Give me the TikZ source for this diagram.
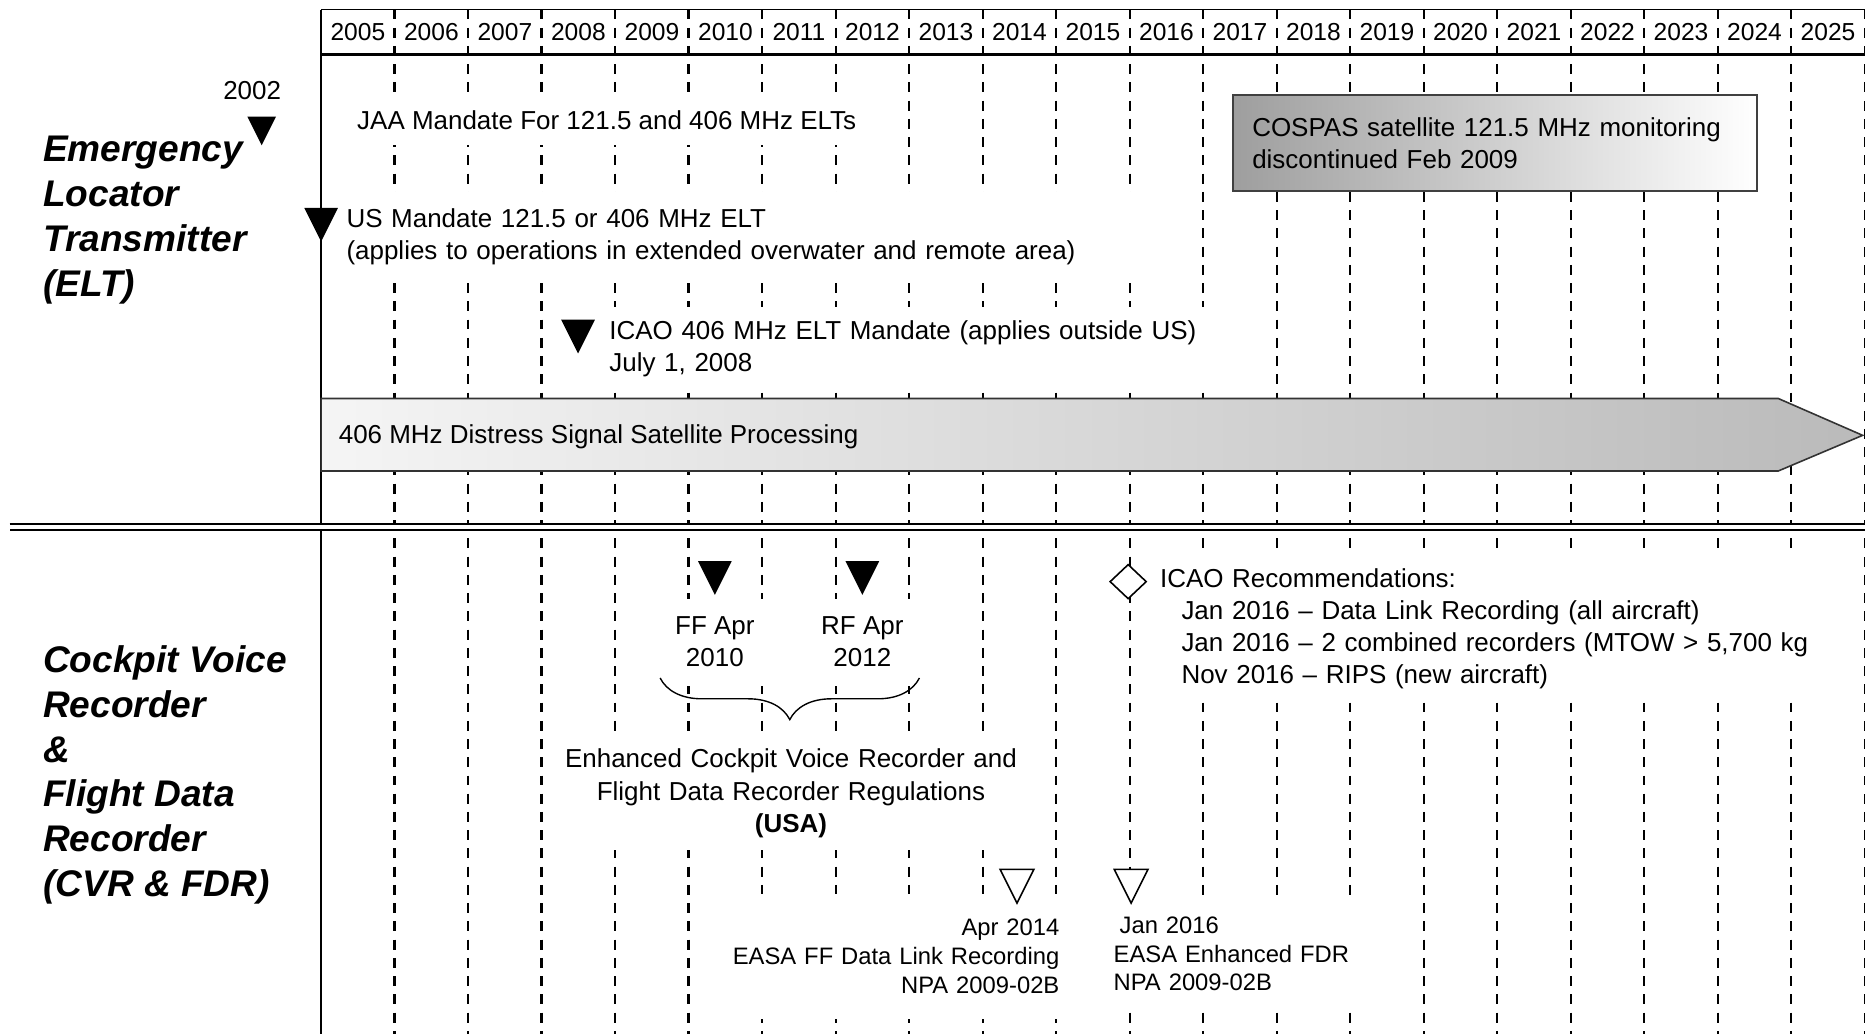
\documentclass[tikz,border=0pt]{standalone}
\usepackage{fontspec}
\setmainfont{Liberation Sans}
\usetikzlibrary{positioning,shapes.geometric,decorations.pathreplacing}

\begin{document}
\begin{tikzpicture}[x=0.6pt, y=-0.6pt, font=\fontsize{13.1}{16.2}\selectfont,
  yearline/.style={line width=1.2pt, dash pattern=on 5pt off 4.2pt},
  axisline/.style={line width=1.2pt},
  yr/.style={font=\fontsize{12.4}{15}\selectfont},
  sect/.style={font=\fontsize{18.7}{22.6}\selectfont\bfseries\itshape, align=left, anchor=west, inner sep=0pt},
  txt/.style={fill=white, align=left, inner xsep=6pt},
  easa/.style={fill=white, inner xsep=3pt, font=\fontsize{12}{14.4}\selectfont},
  tri/.style={isosceles triangle, isosceles triangle stretches, shape border rotate=270, fill=black, inner sep=0pt, minimum width=17pt, minimum height=17pt, anchor=apex},
  hollow/.style={tri, fill=white, draw=black, line width=0.8pt}]
                \useasboundingbox (0,0) rectangle (1568,869);
                \foreach \i in {1,...,21}
                    \draw[yearline] ({270+61.8*\i},8) -- ({270+61.8*\i},869);
                \foreach \y [count=\i from 0] in {2005,...,2025}
                    \node[yr] (y\y) at ({300.9+61.8*\i},27) {\y};
                \draw[line width=0.9pt] (270,8) -- (1568,8);
                \draw[line width=1.6pt] (270,46) -- (1568,46);
                \draw[axisline] (270,8) -- (270,869);
                \draw[line width=1.2pt, double, double distance=1.8pt] (8,443) -- (1568,443);
                \node[sect] (elt) at (36,185) {Emergency\\Locator\\Transmitter\\(ELT)};
                \node[sect] (cvr) at (36,651.5) {Cockpit Voice\\Recorder\\\&\\Flight Data\\Recorder\\(CVR \& FDR)};
                % ELT rows
                \node (lbl2002) at (212,76) {2002};
                \node[tri, minimum width=14.5pt, minimum height=14.5pt] (t2002) at (220,123) {};
                \node[txt, anchor=west, minimum height=25.2pt] (jaa) at (290,101) {JAA Mandate For 121.5 and 406 MHz ELTs};
                \node[draw=black!75, line width=1pt, left color=black!38, right color=white, anchor=north west, text width=245pt, inner xsep=9.6pt, minimum height=48.6pt, align=left] (cospas) at (1036,79) {COSPAS satellite 121.5 MHz monitoring\\discontinued Feb 2009};
                \node[txt, anchor=west, text width=410pt, minimum height=45.6pt] (usm) at (281,199) {US Mandate 121.5 or 406 MHz ELT\\(applies to operations in extended overwater and remote area)};
                \node[tri] (tUS) at (270,204) {};
                \node[txt, anchor=west, inner xsep=7.2pt, text width=303pt, minimum height=42pt] (icao) at (500,293) {ICAO 406 MHz ELT Mandate (applies outside US)\\July 1, 2008};
                \node[tri] (tICAO) at (486,298) {};
                \draw[line width=0.8pt, draw=black!80, left color=black!4, right color=black!27] (270,335) -- (1495,335) -- (1566,366) -- (1495,396) -- (270,396) -- cycle;
                \node[anchor=west] (band) at (279,367) {406 MHz Distress Signal Satellite Processing};
                % CVR & FDR rows
                \node[tri] (tFF) at (601,501) {};
                \node[tri] (tRF) at (725,501) {};
                \node[txt, align=center, inner xsep=8pt, minimum height=43.8pt] (ff) [below=1.2pt of tFF] {FF Apr\\2010};
                \node[txt, align=center, inner xsep=8pt, minimum height=43.8pt] (rf) [below=1.2pt of tRF] {RF Apr\\2012};
                \coordinate (brL) at (555,570);
                \coordinate (brR) at (773,570);
                \draw[line width=0.7pt, decorate, decoration={brace, mirror, amplitude=21pt}] (brL) -- (brR);
                \node[txt, align=center, text width=240pt, inner xsep=1pt, minimum height=57.6pt] (cvrreg) at (665,667) {Enhanced Cockpit Voice Recorder and\\Flight Data Recorder Regulations\\\textbf{(USA)}};
                \node[txt, anchor=west, text width=345pt, minimum height=73.8pt] (icaorec) at (965,528.5) {ICAO Recommendations:\\\hspace*{10.8pt}Jan 2016 – Data Link Recording (all aircraft)\\\hspace*{10.8pt}Jan 2016 – 2 combined recorders (MTOW > 5,700 kg\\\hspace*{10.8pt}Nov 2016 – RIPS (new aircraft)};
                \node[diamond, draw, fill=white, line width=0.8pt, inner sep=0pt, minimum width=18.5pt, minimum height=17.5pt] (dICAO) at (948.5,489) {};
                \node[easa, anchor=east, align=right, text width=171pt, minimum height=63pt] (easaff) at (896,804) {Apr 2014\\EASA FF Data Link Recording\\NPA 2009-02B};
                \node[easa, anchor=west, align=left, text width=125pt, minimum height=58pt] (easafdr) at (931,802) {\hspace*{3pt}Jan 2016\\EASA Enhanced FDR\\NPA 2009-02B};
                \node[hollow] (tEASA1) at (855,761) {};
                \node[hollow] (tEASA2) at (951,761) {};
            \end{tikzpicture}
\end{document}
